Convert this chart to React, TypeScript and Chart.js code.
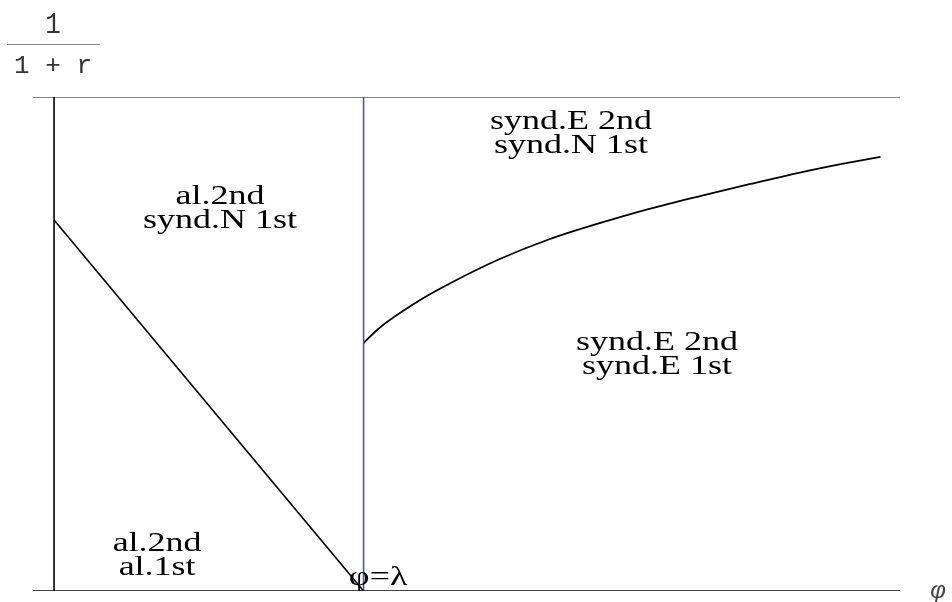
import React, { useEffect, useRef } from "react";
import { Chart, registerables } from "chart.js";

Chart.register(...registerables);

// x: φ (λ = 1), y: 1/(1+r)
const X_MIN = -0.068;
const X_MAX = 2.733;
const LAMBDA = 1;
const Y_TOP = 1;

const lineLeftX = [0, LAMBDA];
const lineLeftY = [0.751, 0];

const curveX = [1.0, 1.05, 1.18, 1.28, 1.44, 1.6, 1.76, 1.92, 2.09, 2.25, 2.41, 2.55, 2.67];
const curveY = [0.502, 0.532, 0.588, 0.623, 0.672, 0.712, 0.744, 0.773, 0.8, 0.824, 0.847, 0.865, 0.879];

const regionLabels = [
  { lines: ["synd.E 2nd", "synd.N 1st"], x: 1.67, y: 0.935 },
  { lines: ["al.2nd", "synd.N 1st"], x: 0.536, y: 0.783 },
  { lines: ["synd.E 2nd", "synd.E 1st"], x: 1.948, y: 0.488 },
  { lines: ["al.2nd", "al.1st"], x: 0.333, y: 0.081 },
  { lines: ["φ=λ"], x: 1.047, y: 0.012 },
];

const BLUE = "#5252b4";

const labelPlugin = {
  id: "labels",
  afterDraw(chart: any) {
    const ctx = chart.ctx;
    const xs = chart.scales.x;
    const ys = chart.scales.y;
    ctx.save();
    ctx.fillStyle = "#000";
    ctx.textAlign = "center";
    ctx.textBaseline = "alphabetic";
    ctx.font = '36px "Liberation Serif"';
    const sy = 0.75;
    for (const l of regionLabels) {
      const px = xs.getPixelForValue(l.x);
      const py = ys.getPixelForValue(l.y);
      l.lines.forEach((t, i) => {
        ctx.save();
        ctx.translate(px, py + i * 24);
        ctx.scale(1, sy);
        ctx.fillText(t, 0, 0);
        ctx.restore();
      });
    }
    // axis label φ
    const ax = xs.getPixelForValue(2.856);
    const ay = ys.getPixelForValue(0);
    ctx.fillStyle = "#444";
    ctx.font = 'italic 24px "Liberation Sans"';
    ctx.textBaseline = "middle";
    ctx.fillText("φ", ax, ay);
    // y label 1/(1+r)
    const area = chart.chartArea;
    ctx.fillStyle = "#333";
    ctx.font = '26px "Liberation Mono"';
    ctx.textBaseline = "alphabetic";
    const cx = area.left + 20;
    ctx.save();
    ctx.translate(cx, area.top - 64);
    ctx.scale(1, 1.1);
    ctx.fillText("1", 0, 0);
    ctx.restore();
    ctx.fillText("1 + r", area.left + 20, area.top - 24);
    ctx.strokeStyle = "#888";
    ctx.lineWidth = 1;
    ctx.beginPath();
    ctx.moveTo(area.left - 26, area.top - 52.5);
    ctx.lineTo(area.left + 67, area.top - 52.5);
    ctx.stroke();
    ctx.restore();
  },
};

export default function App() {
  const ref = useRef<HTMLCanvasElement | null>(null);
  useEffect(() => {
    document.body.style.margin = "0";
    if (!ref.current) return;
    const seg = (x: number[], y: number[]) => x.map((v, i) => ({ x: v, y: y[i] }));
    const chart = new Chart(ref.current, {
      type: "scatter",
      data: {
        datasets: [
          { data: seg([X_MIN, X_MAX], [0, 0]), borderColor: "#000", borderWidth: 1.6 },
          { data: seg([0, 0], [0, Y_TOP]), borderColor: "#000", borderWidth: 1.6 },
          { data: seg([X_MIN, X_MAX], [Y_TOP, Y_TOP]), borderColor: BLUE, borderWidth: 1.6 },
          { data: seg([LAMBDA, LAMBDA], [0, Y_TOP]), borderColor: BLUE, borderWidth: 1.6 },
          { data: seg(lineLeftX, lineLeftY), borderColor: "#000", borderWidth: 1.6 },
          {
            data: seg(curveX, curveY),
            borderColor: "#000",
            borderWidth: 1.8,
            cubicInterpolationMode: "monotone",
          },
        ].map((d) => ({ ...d, showLine: true, pointRadius: 0, fill: false })) as any,
      },
      options: {
        animation: false,
        responsive: false,
        layout: { padding: { left: 33, right: 52, top: 97, bottom: 11 } },
        plugins: { legend: { display: false }, tooltip: { enabled: false } },
        scales: {
          x: { type: "linear", min: X_MIN, max: X_MAX, display: false },
          y: { type: "linear", min: 0, max: Y_TOP, display: false },
        },
      },
      plugins: [labelPlugin],
    });
    return () => chart.destroy();
  }, []);
  return (
    <div style={{ position: "absolute", left: 0, top: 0, width: 952, height: 602, background: "#fff" }}>
      <canvas ref={ref} width={952} height={602} />
    </div>
  );
}
